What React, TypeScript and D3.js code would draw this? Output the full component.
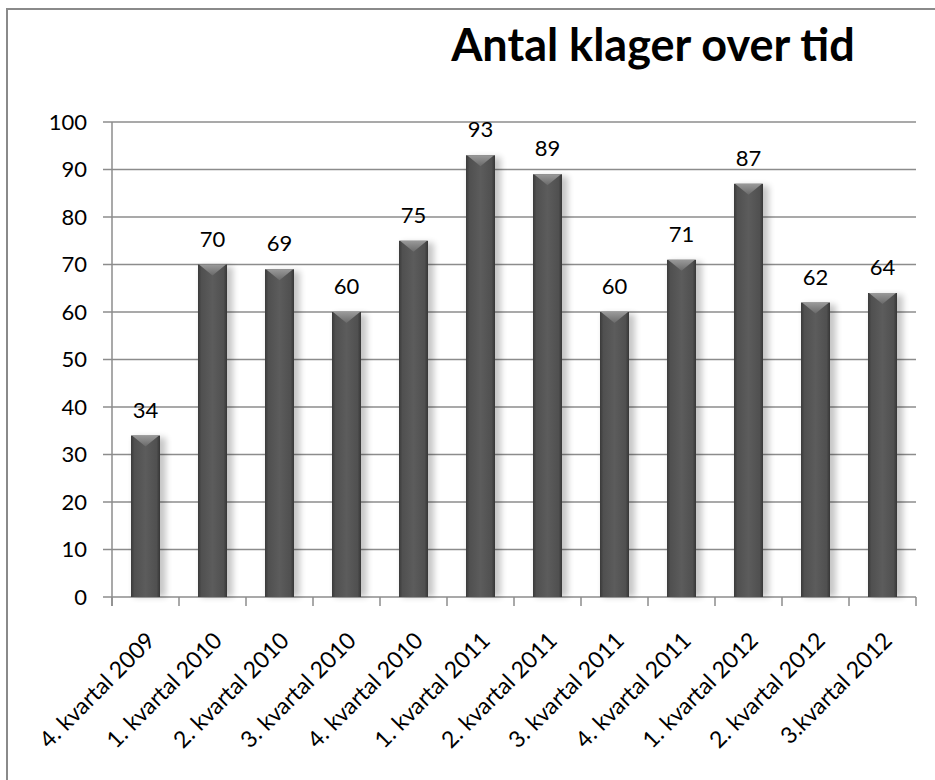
import React, { useRef, useEffect } from "react";
import * as d3 from "d3";

const categories = [
  "4. kvartal 2009",
  "1. kvartal 2010",
  "2. kvartal 2010",
  "3. kvartal 2010",
  "4. kvartal 2010",
  "1. kvartal 2011",
  "2. kvartal 2011",
  "3. kvartal 2011",
  "4. kvartal 2011",
  "1. kvartal 2012",
  "2. kvartal 2012",
  "3.kvartal 2012",
];
const values = [34, 70, 69, 60, 75, 93, 89, 60, 71, 87, 62, 64];
const yTicks = [0, 10, 20, 30, 40, 50, 60, 70, 80, 90, 100];
const title = "Antal klager over tid";

const FONT = "Lato, 'Open Sans', sans-serif";

const App = () => {
  const svgRef = useRef<SVGSVGElement>(null);
  const width = 935;
  const height = 780;

  useEffect(() => {
    const left = 112;
    const right = 916;
    const top = 122;
    const bottom = 597;

    const svg = d3.select(svgRef.current).append("g");

    const defs = svg.append("defs");
    const grad = defs
      .append("linearGradient")
      .attr("id", "barGrad")
      .attr("x1", "0%")
      .attr("x2", "100%")
      .attr("y1", "0%")
      .attr("y2", "0%");
    grad.append("stop").attr("offset", "0%").attr("stop-color", "#3a3a3a");
    grad.append("stop").attr("offset", "12%").attr("stop-color", "#505050");
    grad.append("stop").attr("offset", "50%").attr("stop-color", "#5c5c5c");
    grad.append("stop").attr("offset", "88%").attr("stop-color", "#505050");
    grad.append("stop").attr("offset", "100%").attr("stop-color", "#363636");

    const bevel = defs
      .append("linearGradient")
      .attr("id", "bevelGrad")
      .attr("x1", "0%")
      .attr("x2", "0%")
      .attr("y1", "0%")
      .attr("y2", "100%");
    bevel.append("stop").attr("offset", "0%").attr("stop-color", "#9a9a9a");
    bevel.append("stop").attr("offset", "100%").attr("stop-color", "#6a6a6a");

    const shadow = defs
      .append("filter")
      .attr("id", "shadow")
      .attr("x", "-50%")
      .attr("y", "-10%")
      .attr("width", "200%")
      .attr("height", "120%");
    shadow.append("feGaussianBlur").attr("stdDeviation", 3);

    // frame (only top/left edges fall inside the picture)
    svg
      .append("rect")
      .attr("x", 7)
      .attr("y", 9)
      .attr("width", 1000)
      .attr("height", 1000)
      .attr("fill", "white")
      .attr("stroke", "#8a8a8a")
      .attr("stroke-width", 2);

    const x = d3
      .scaleBand()
      .domain(categories)
      .range([left, right])
      .paddingInner(0.567)
      .paddingOuter(0.2835);

    const y = d3.scaleLinear().domain([0, 100]).range([bottom, top]);

    // gridlines
    svg
      .append("g")
      .selectAll("line")
      .data(yTicks)
      .enter()
      .append("line")
      .attr("x1", left - 9)
      .attr("x2", right)
      .attr("y1", (d) => y(d))
      .attr("y2", (d) => y(d))
      .attr("stroke", "#8c8c8c")
      .attr("stroke-width", 1.5);

    // y axis
    svg
      .append("line")
      .attr("x1", left)
      .attr("x2", left)
      .attr("y1", top)
      .attr("y2", bottom + 9)
      .attr("stroke", "#8c8c8c")
      .attr("stroke-width", 1.5);

    svg
      .append("g")
      .selectAll("text")
      .data(yTicks)
      .enter()
      .append("text")
      .attr("x", 87)
      .attr("y", (d) => y(d))
      .attr("dy", "0.36em")
      .attr("text-anchor", "end")
      .attr("font-family", FONT)
      .attr("font-size", 22)
      .attr("fill", "#000")
      .text((d) => d);

    // x ticks
    const step = x.step();
    svg
      .append("g")
      .selectAll("line")
      .data(d3.range(categories.length + 1))
      .enter()
      .append("line")
      .attr("x1", (i) => left + i * step)
      .attr("x2", (i) => left + i * step)
      .attr("y1", bottom)
      .attr("y2", bottom + 9)
      .attr("stroke", "#8c8c8c")
      .attr("stroke-width", 1.5);

    // bars
    const bw = x.bandwidth();
    const bars = svg
      .append("g")
      .selectAll("g")
      .data(values)
      .enter()
      .append("g");

    bars
      .append("rect")
      .attr("x", (d, i) => x(categories[i]) + 3)
      .attr("y", (d) => y(d) + 2)
      .attr("width", bw + 3)
      .attr("height", (d) => bottom - y(d) - 2)
      .attr("fill", "#000")
      .attr("opacity", 0.22)
      .attr("filter", "url(#shadow)");

    bars
      .append("rect")
      .attr("x", (d, i) => x(categories[i]))
      .attr("y", (d) => y(d))
      .attr("width", bw)
      .attr("height", (d) => bottom - y(d))
      .attr("fill", "url(#barGrad)");

    bars
      .append("path")
      .attr("d", (d, i) => {
        const x0 = x(categories[i]);
        const t = y(d);
        return `M${x0 + 1},${t}L${x0 + bw - 1},${t}L${x0 + bw / 2},${t + 11}Z`;
      })
      .attr("fill", "url(#bevelGrad)");

    // value labels
    svg
      .append("g")
      .selectAll("text")
      .data(values)
      .enter()
      .append("text")
      .attr("x", (d, i) => x(categories[i]) + bw / 2)
      .attr("y", (d) => y(d) - 18)
      .attr("text-anchor", "middle")
      .attr("font-family", FONT)
      .attr("font-size", 22)
      .attr("fill", "#000")
      .text((d) => d);

    // category labels
    svg
      .append("g")
      .selectAll("text")
      .data(categories)
      .enter()
      .append("text")
      .attr(
        "transform",
        (d) => `translate(${x(d) + bw / 2 + 11},${bottom + 45}) rotate(-45)`
      )
      .attr("text-anchor", "end")
      .attr("font-family", FONT)
      .attr("font-size", 23)
      .attr("fill", "#000")
      .text((d) => d);

    // title
    svg
      .append("text")
      .attr("x", 653)
      .attr("y", 61)
      .attr("text-anchor", "middle")
      .attr("font-family", FONT)
      .attr("font-weight", "bold")
      .attr("font-size", 45)
      .attr("fill", "#000")
      .text(title);

    return () => {
      svg.remove();
    };
  }, []);

  return (
    <svg
      ref={svgRef}
      width={width}
      height={height}
      style={{ position: "absolute", left: 0, top: 0 }}
    />
  );
};

export default App;
